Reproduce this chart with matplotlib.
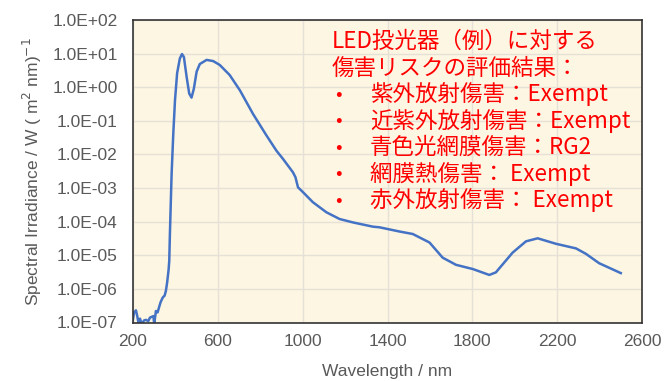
import matplotlib
matplotlib.use("Agg")
import matplotlib.pyplot as plt

# Spectrum (wavelength in nm, irradiance W/(m2 nm))
wavelength = [199, 205, 214, 220, 227, 233, 241, 252, 261, 272, 280, 296, 300,
              308, 316, 324, 330, 340, 349, 355, 361, 368, 371, 374, 382, 390,
              398, 408, 421, 431, 440, 453, 465, 476, 487, 500, 515, 547, 578,
              609, 656, 704, 766, 829, 876, 907, 954, 966, 978, 1001, 1048,
              1112, 1174, 1237, 1331, 1362, 1456, 1519, 1598, 1660, 1723,
              1802, 1880, 1911, 1990, 2053, 2108, 2194, 2289, 2336, 2398, 2500]
irradiance = [1.15e-7, 2.0e-7, 2.3e-7, 1.55e-7, 0.9e-7, 1.3e-7, 0.9e-7,
              1.15e-7, 1.2e-7, 1.1e-7, 1.4e-7, 1.55e-7, 0.9e-7,
              2.2e-7, 2.0e-7, 3.0e-7, 4.0e-7, 5.5e-7, 6.3e-7, 8.7e-7,
              1.55e-6, 3.8e-6, 6.9e-6, 4.3e-5, 2.6e-3, 4.2e-2,
              4.1e-1, 2.6e0, 7.2e0, 9.7e0, 7.9e0, 2.0e0, 6.5e-1, 4.9e-1,
              9.1e-1, 2.9e0, 4.9e0, 6.5e0, 6.0e0,
              4.6e0, 2.3e0, 8.1e-1, 1.6e-1, 3.7e-2, 1.3e-2, 7.4e-3,
              2.95e-3, 2.1e-3, 1.05e-3, 7.6e-4, 3.8e-4,
              1.9e-4, 1.2e-4, 9.5e-5, 7.1e-5, 6.8e-5, 5.1e-5, 4.3e-5,
              2.4e-5, 8.5e-6, 5.2e-6,
              3.9e-6, 2.6e-6, 3.1e-6, 1.2e-5, 2.6e-5, 3.2e-5, 2.2e-5,
              1.6e-5, 1.1e-5, 5.8e-6, 2.95e-6]

x_ticks = [200, 600, 1000, 1400, 1800, 2200, 2600]
y_ticks = [1e-7, 1e-6, 1e-5, 1e-4, 1e-3, 1e-2, 1e-1, 1e0, 1e1, 1e2]
y_tick_labels = ["1.0E-07", "1.0E-06", "1.0E-05", "1.0E-04", "1.0E-03",
                 "1.0E-02", "1.0E-01", "1.0E+00", "1.0E+01", "1.0E+02"]

note_lines = ["LED投光器（例）に対する",
              "傷害リスクの評価結果：",
              "•\u3000紫外放射傷害：Exempt",
              "•\u3000近紫外放射傷害：Exempt",
              "•\u3000青色光網膜傷害：RG2",
              "•\u3000網膜熱傷害： Exempt",
              "•\u3000赤外放射傷害： Exempt"]

plt.rcParams['font.family'] = ['Liberation Sans', 'DejaVu Sans']
gray = '#595959'

fig = plt.figure(figsize=(6.64, 3.81), dpi=100)
ax = fig.add_axes([133 / 664, 1 - 322.5 / 381, 509 / 664, 302.5 / 381])
ax.set_facecolor('#FDF6E3')

ax.plot(wavelength, irradiance, color='#4472C4', linewidth=1.8)

ax.set_yscale('log')
ax.set_xlim(200, 2600)
ax.set_ylim(1e-7, 1e2)
ax.set_xticks(x_ticks)
ax.set_xticklabels([str(v) for v in x_ticks])
ax.set_yticks(y_ticks)
ax.set_yticklabels(y_tick_labels)
ax.minorticks_off()
ax.tick_params(axis='both', length=0, labelsize=12.5, labelcolor=gray)
ax.tick_params(axis='x', pad=8)
ax.tick_params(axis='y', pad=11)
ax.grid(True, color='#E6E1D6', linewidth=1.0)
ax.set_axisbelow(True)
for sp in ax.spines.values():
    sp.set_color('#333333')
    sp.set_linewidth(1.2)

ax.set_xlabel("Wavelength / nm", fontsize=12.5, color=gray, labelpad=11)
ax.set_ylabel("Spectral Irradiance / W ( m$^2$ nm)$^{-1}$", fontsize=12.5,
              color=gray, labelpad=6)

# red annotation block
cjk = ['Noto Sans CJK JP', 'DejaVu Sans']
y0 = 41.7
for i, line in enumerate(note_lines):
    y = y0 + i * 26.4
    if line.startswith("•"):
        fig.text(335 / 664, 1 - y / 381, "•", color='red', fontsize=14,
                 va='center', ha='left', family=cjk)
        fig.text(370 / 664, 1 - y / 381, line[2:], color='red', fontsize=16.2,
                 va='center', ha='left', family=cjk)
    else:
        fig.text(332 / 664, 1 - y / 381, line, color='red', fontsize=16.2,
                 va='center', ha='left', family=cjk)

fig.savefig("out.png", dpi=100)
